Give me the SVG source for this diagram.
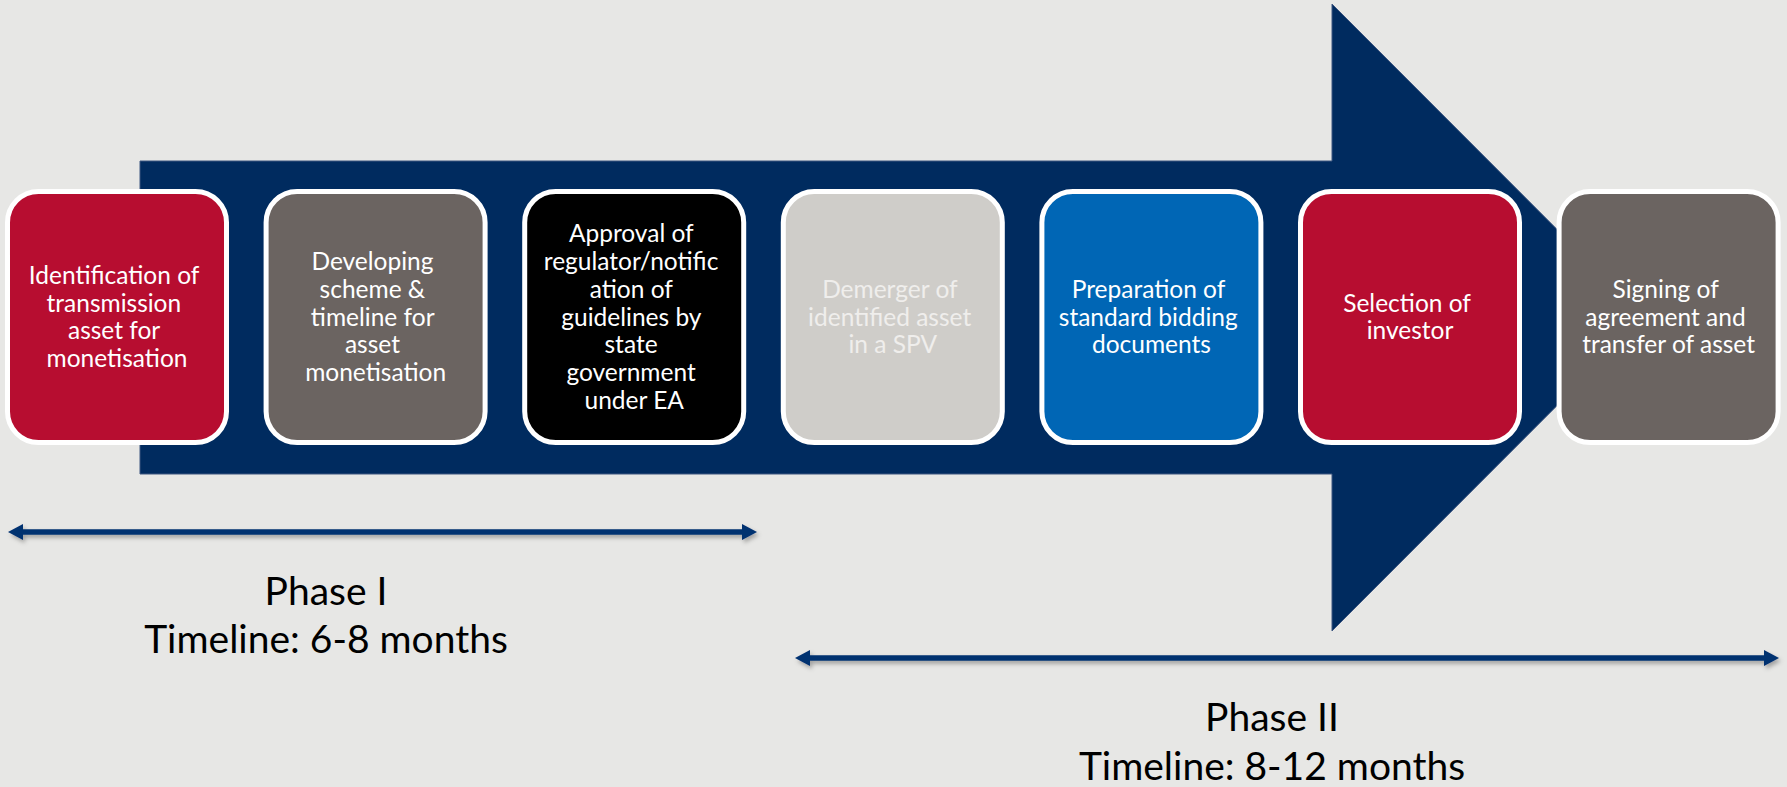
<svg xmlns="http://www.w3.org/2000/svg" width="1787" height="787" viewBox="0 0 1787 787">
  <defs>
    <style>
      .node rect { stroke: #ffffff; stroke-width: 5; }
      .label { font-family: Lato, "Liberation Sans", sans-serif; font-size: 24.5px; fill: #ffffff; text-anchor: middle; }
      .label.soft { fill: #efeeec; }
      .phase { font-family: Lato, "Liberation Sans", sans-serif; font-size: 39px; fill: #000000; text-anchor: middle; }
      .span { stroke: #003070; stroke-width: 5.5; fill: none; marker-start: url(#head); marker-end: url(#head); }
    </style>
    <marker id="head" markerUnits="userSpaceOnUse" markerWidth="16" markerHeight="18" viewBox="0 -9 16 18" refX="0" refY="0" orient="auto-start-reverse">
      <path d="M0,-8 L15,0 L0,8 Z" fill="#003070"/>
    </marker>
    <filter id="shadow" x="-5%" y="-200%" width="110%" height="500%">
      <feDropShadow dx="2" dy="3" stdDeviation="2" flood-color="#000000" flood-opacity="0.3"/>
    </filter>
  </defs>

  <!-- background -->
  <rect x="0" y="0" width="1787" height="787" fill="#e7e7e5"/>

  <!-- large process arrow behind the steps -->
  <path d="M140,161 H1332 V4 L1645,317.5 L1332,631 V474 H140 Z" fill="#002b5f" stroke="#3d5680" stroke-width="1"/>

  <!-- process steps -->
  <g id="step1" class="node">
    <rect x="7.5" y="191.5" width="219" height="251" rx="31" fill="#b70d30"/>
    <text class="label">
      <tspan x="117" y="284">Identification of</tspan>
      <tspan x="117" y="311.7">transmission</tspan>
      <tspan x="117" y="339.4">asset for</tspan>
      <tspan x="117" y="367.1">monetisation</tspan>
    </text>
  </g>
  <g id="step2" class="node">
    <rect x="266.1" y="191.5" width="219" height="251" rx="31" fill="#6b6461"/>
    <text class="label">
      <tspan x="375.6" y="270.1">Developing</tspan>
      <tspan x="375.6" y="297.8">scheme &amp;</tspan>
      <tspan x="375.6" y="325.5">timeline for</tspan>
      <tspan x="375.6" y="353.2">asset</tspan>
      <tspan x="375.6" y="380.9">monetisation</tspan>
    </text>
  </g>
  <g id="step3" class="node">
    <rect x="524.7" y="191.5" width="219" height="251" rx="31" fill="#000000"/>
    <text class="label">
      <tspan x="634.2" y="242.4">Approval of</tspan>
      <tspan x="634.2" y="270.1">regulator/notific</tspan>
      <tspan x="634.2" y="297.8">ation of</tspan>
      <tspan x="634.2" y="325.5">guidelines by</tspan>
      <tspan x="634.2" y="353.2">state</tspan>
      <tspan x="634.2" y="380.9">government</tspan>
      <tspan x="634.2" y="408.6">under EA</tspan>
    </text>
  </g>
  <g id="step4" class="node">
    <rect x="783.3" y="191.5" width="219" height="251" rx="31" fill="#cfcdc9"/>
    <text class="label soft">
      <tspan x="892.8" y="297.8">Demerger of</tspan>
      <tspan x="892.8" y="325.5">identified asset</tspan>
      <tspan x="892.8" y="353.2">in a SPV</tspan>
    </text>
  </g>
  <g id="step5" class="node">
    <rect x="1041.9" y="191.5" width="219" height="251" rx="31" fill="#0066b5"/>
    <text class="label">
      <tspan x="1151.4" y="297.8">Preparation of</tspan>
      <tspan x="1151.4" y="325.5">standard bidding</tspan>
      <tspan x="1151.4" y="353.2">documents</tspan>
    </text>
  </g>
  <g id="step6" class="node">
    <rect x="1300.5" y="191.5" width="219" height="251" rx="31" fill="#b70d30"/>
    <text class="label">
      <tspan x="1410" y="311.6">Selection of</tspan>
      <tspan x="1410" y="339.3">investor</tspan>
    </text>
  </g>
  <g id="step7" class="node">
    <rect x="1559.1" y="191.5" width="219" height="251" rx="31" fill="#6b6461"/>
    <text class="label">
      <tspan x="1668.6" y="297.8">Signing of</tspan>
      <tspan x="1668.6" y="325.5">agreement and</tspan>
      <tspan x="1668.6" y="353.2">transfer of asset</tspan>
    </text>
  </g>

  <!-- phase span connectors -->
  <g id="connectors" filter="url(#shadow)">
    <line class="span" x1="23" y1="532" x2="742" y2="532"/>
    <line class="span" x1="810" y1="658" x2="1764" y2="658"/>
  </g>

  <!-- phase captions -->
  <g id="phase1">
    <text class="phase" x="326" y="605">Phase I</text>
    <text class="phase" x="326" y="653">Timeline: 6-8 months</text>
  </g>
  <g id="phase2">
    <text class="phase" x="1272" y="731">Phase II</text>
    <text class="phase" x="1272" y="780">Timeline: 8-12 months</text>
  </g>
</svg>
